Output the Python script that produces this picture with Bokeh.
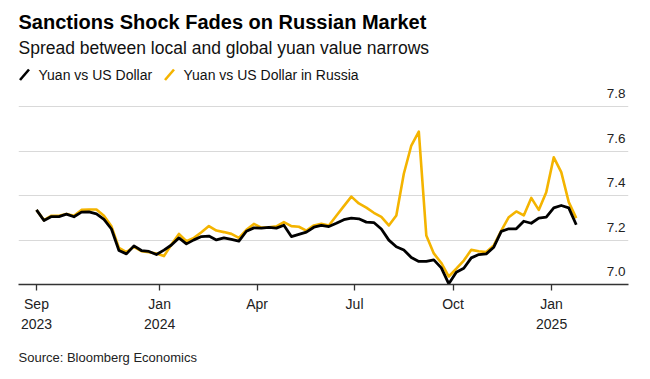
import pandas as pd
from bokeh.plotting import figure
from bokeh.layouts import column
from bokeh.models import Label, FixedTicker, Range1d
from bokeh.core.properties import value
from bokeh.embed import file_html
from bokeh.resources import INLINE

# ---- data (weekly) ----
start_date = "2023-09-08"
yuan_usd = [7.336, 7.288, 7.306, 7.306, 7.317, 7.305, 7.326, 7.327, 7.318, 7.293,
            7.250, 7.153, 7.138, 7.174, 7.153, 7.149, 7.135, 7.155, 7.178, 7.210,
            7.183, 7.201, 7.216, 7.218, 7.201, 7.210, 7.203, 7.195, 7.240, 7.255,
            7.254, 7.257, 7.254, 7.267, 7.216, 7.226, 7.236, 7.258, 7.266, 7.261,
            7.276, 7.292, 7.299, 7.296, 7.281, 7.279, 7.250, 7.200, 7.170, 7.155,
            7.122, 7.104, 7.104, 7.111, 7.075, 7.003, 7.055, 7.073, 7.120, 7.135,
            7.138, 7.168, 7.239, 7.251, 7.251, 7.285, 7.276, 7.299, 7.303, 7.345,
            7.356, 7.345, 7.269]
yuan_usd_russia = [7.336, 7.290, 7.310, 7.310, 7.318, 7.310, 7.336, 7.338, 7.338, 7.310,
                   7.262, 7.165, 7.146, 7.170, 7.150, 7.145, 7.140, 7.128, 7.180, 7.228,
                   7.195, 7.210, 7.235, 7.263, 7.243, 7.236, 7.228, 7.210, 7.246, 7.273,
                   7.256, 7.258, 7.262, 7.281, 7.263, 7.260, 7.243, 7.266, 7.273, 7.266,
                   7.310, 7.353, 7.396, 7.365, 7.346, 7.323, 7.305, 7.266, 7.311, 7.499,
                   7.626, 7.689, 7.221, 7.140, 7.097, 7.036, 7.071, 7.108, 7.156, 7.150,
                   7.146, 7.176, 7.243, 7.303, 7.329, 7.311, 7.390, 7.336, 7.416, 7.573,
                   7.506, 7.371, 7.299]
series_names = ["Yuan vs US Dollar", "Yuan vs US Dollar in Russia"]
series_colors = ["#000000", "#F4B400"]

x_tick_dates = ["2023-09-08", "2024-01-01", "2024-04-01", "2024-07-01", "2024-10-01", "2025-01-01"]
x_tick_labels = ["Sep\n2023", "Jan\n2024", "Apr", "Jul", "Oct", "Jan\n2025"]
y_ticks = [7.0, 7.2, 7.4, 7.6, 7.8]
y_tick_labels = ["7.0", "7.2", "7.4", "7.6", "7.8"]

title = "Sanctions Shock Fades on Russian Market"
subtitle = "Spread between local and global yuan value narrows"
source = "Source: Bloomberg Economics"

dates = pd.date_range(start_date, periods=len(yuan_usd), freq="7D")

FONT = "Liberation Sans"
W = 650
FRAME_W = 610
L, R = 18, 628   # frame edges in page pixels (column aligns frames)

# ---------------- header (title, subtitle, legend) ----------------
hdr = figure(width=W, height=84, output_backend="svg", toolbar_location=None,
             x_axis_type=None, y_axis_type=None,
             x_range=Range1d(L, R), y_range=Range1d(84, 0),
             min_border_left=L, min_border_right=W - R, min_border_top=0, min_border_bottom=0)
hdr.outline_line_color = None
hdr.grid.grid_line_color = None
hdr.text(x=[18], y=[21], text=[title], text_font=value(FONT), text_font_style="bold",
         text_font_size="20px", text_baseline="middle", text_color="#000000")
hdr.text(x=[18], y=[47], text=[subtitle], text_font=value(FONT),
         text_font_size="17.5px", text_baseline="middle", text_color="#111111")
hdr.segment(x0=[19.5, 164.5], y0=[79.5, 79.5], x1=[28.5, 173.5], y1=[69, 69],
            line_color=series_colors, line_width=2.6)
hdr.text(x=[38, 183], y=[74, 74], text=series_names, text_font=value(FONT),
         text_font_size="14px", text_baseline="middle", text_color="#111111")

# ---------------- main chart ----------------
p = figure(width=W, height=261, output_backend="svg", toolbar_location=None,
           x_axis_type="datetime",
           x_range=Range1d(pd.Timestamp("2023-08-22 05:00"), pd.Timestamp("2025-03-13 19:00")),
           y_range=Range1d(7.0, 7.9009),
           min_border_left=L, min_border_right=W - R, min_border_top=0, min_border_bottom=61)
p.outline_line_color = None
p.background_fill_color = "white"
p.border_fill_color = "white"

p.xgrid.grid_line_color = None
p.ygrid.ticker = FixedTicker(ticks=y_ticks)
p.ygrid.grid_line_color = "#d9d9d9"
p.ygrid.grid_line_width = 1.2
p.yaxis.visible = False

tick_ms = [pd.Timestamp(d).value / 1e6 for d in x_tick_dates]
xa = p.xaxis[0]
xa.ticker = FixedTicker(ticks=tick_ms)
xa.major_label_overrides = {t: lab for t, lab in zip(tick_ms, x_tick_labels)}
xa.axis_line_color = "#333333"
xa.axis_line_width = 1.6
xa.major_tick_line_color = "#333333"
xa.major_tick_line_width = 1.3
xa.major_tick_in = 0
xa.major_tick_out = 6
xa.minor_tick_line_color = None
xa.major_label_standoff = 5
xa.major_label_text_font = FONT
xa.major_label_text_font_size = "14px"
xa.major_label_text_color = "#222222"
xa.major_label_text_line_height = 1.3

p.line(dates, yuan_usd_russia, line_color=series_colors[1], line_width=2.6, line_join="round")
p.line(dates, yuan_usd, line_color=series_colors[0], line_width=2.8, line_join="round")

for t, lab in zip(y_ticks, y_tick_labels):
    p.add_layout(Label(x=FRAME_W - 3, x_units="screen", y=t, y_units="data", y_offset=13,
                       text=lab, text_align="right", text_baseline="middle",
                       text_font=FONT, text_font_size="13.5px", text_color="#222222"))

# ---------------- footer (source) ----------------
ftr = figure(width=W, height=34, output_backend="svg", toolbar_location=None,
             x_axis_type=None, y_axis_type=None,
             x_range=Range1d(L, R), y_range=Range1d(34, 0),
             min_border_left=L, min_border_right=W - R, min_border_top=0, min_border_bottom=0)
ftr.outline_line_color = None
ftr.grid.grid_line_color = None
ftr.text(x=[18], y=[12], text=[source], text_font=value(FONT),
         text_font_size="13px", text_baseline="middle", text_color="#222222")

layout = column(hdr, p, ftr, spacing=0)
open("out.html", "w").write(file_html(layout, INLINE))
